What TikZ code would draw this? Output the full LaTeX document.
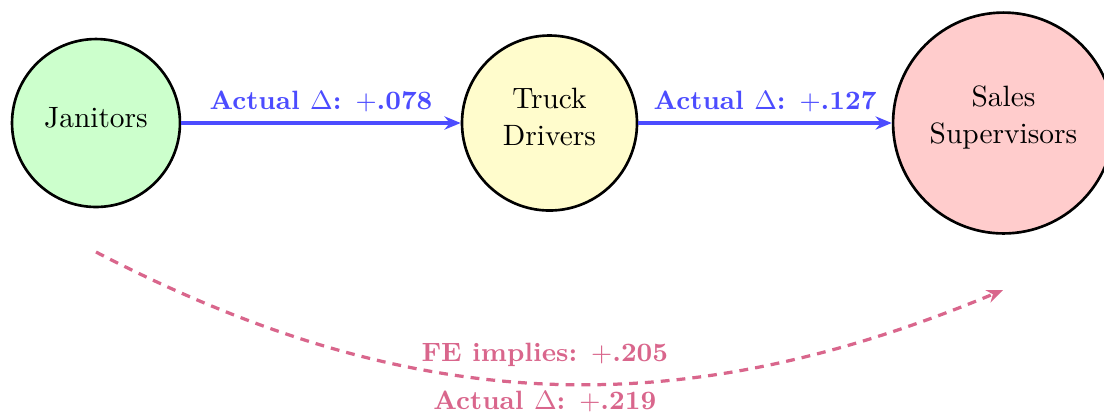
\documentclass[tikz,border=0pt]{standalone}
\usetikzlibrary{arrows.meta}
\begin{document}
\begin{tikzpicture}[x=0.34pt, y=-0.34pt,
  occ/.style={circle, draw=black, line width=0.9pt, align=center, inner sep=2pt,
    font=\fontsize{10}{12.6}\selectfont, text depth=4pt},
  flow/.style={-{Stealth[length=5.5pt,width=4.5pt]}, line width=1.1pt, blue!70},
  flowlabel/.style={font=\fontsize{9}{11}\selectfont\bfseries, text=blue!70},
  fe/.style={-{Stealth[length=5.5pt,width=4.5pt]}, line width=1.1pt, dash pattern=on 3pt off 2.4pt, purple!60},
  felabel/.style={font=\fontsize{9}{11}\selectfont\bfseries, text=purple!60}]
  \useasboundingbox (0,0) rectangle (1104,412);

  % occupations
  \node[occ, fill=green!20, minimum size=57.1pt] (jan) at (96,123) {Janitors};
  \node[occ, fill=yellow!20, minimum size=59.5pt] (truck) at (549.5,123) {Truck\\Drivers};
  \node[occ, fill=red!20, minimum size=75.1pt, text depth=6pt] (sales) at (1003.5,123) {Sales\\Supervisors};

  % observed step-by-step changes
  \draw[flow] (jan) -- node[flowlabel, above] {Actual $\Delta$: $+$.078} (truck);
  \draw[flow] (truck) -- node[flowlabel, above] {Actual $\Delta$: $+$.127} (sales);

  % fixed-effects implied change over the whole path
  \coordinate (from) at (96,252);
  \coordinate (to) at (1003,290);
  \draw[fe] (from) to[bend right=25]
    node[felabel, above, yshift=1.8pt] {FE implies: $+$.205}
    node[felabel, below, yshift=1.5pt] {Actual $\Delta$: $+$.219} (to);
\end{tikzpicture}
\end{document}
